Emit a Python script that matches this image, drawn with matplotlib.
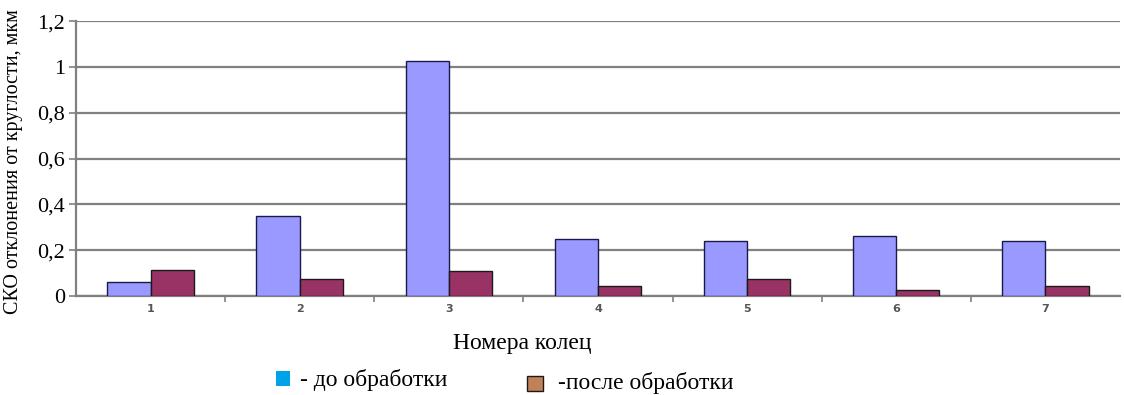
import numpy as np
import matplotlib.pyplot as plt
from matplotlib.patches import Rectangle

# данные ---------------------------------------------------------------
kolca = ["1", "2", "3", "4", "5", "6", "7"]
do_obrabotki = [0.06, 0.35, 1.025, 0.25, 0.24, 0.26, 0.24]
posle_obrabotki = [0.115, 0.075, 0.11, 0.045, 0.075, 0.025, 0.045]
y_ticks = [0, 0.2, 0.4, 0.6, 0.8, 1.0, 1.2]
y_tick_labels = ["0", "0,2", "0,4", "0,6", "0,8", "1", "1,2"]

plt.rcParams['font.family'] = ['Liberation Serif', 'DejaVu Serif']

fig = plt.figure(figsize=(11.24, 3.95), dpi=100)
ax = fig.add_axes([0.0676, 0.2506, 0.9288, 0.696])

x = np.arange(len(kolca))
w = 0.29
ax.bar(x - w / 2, do_obrabotki, w, color="#9999FF", edgecolor="#1a1a4a", linewidth=1.0, zorder=3)
ax.bar(x + w / 2, posle_obrabotki, w, color="#993366", edgecolor="#1a1a1a", linewidth=1.0, zorder=3)

ax.set_xlim(-0.5, len(kolca) - 0.5)
ax.set_ylim(0, 1.2)
ax.set_yticks(y_ticks)
ax.set_yticklabels(y_tick_labels, fontsize=16)
ax.yaxis.grid(True, color="#808080", linewidth=1.6, zorder=0)

# подписи категорий и засечки между ними
ax.set_xticks(x)
ax.set_xticklabels(kolca, fontsize=8, color="#555555", fontfamily="DejaVu Sans", fontweight="bold")
ax.tick_params(axis="x", length=0, pad=6)
ax.set_xticks(np.arange(0.5, len(kolca) - 0.5, 1), minor=True)
ax.tick_params(axis="x", which="minor", length=4, color="#808080", width=1.2)
ax.tick_params(axis="y", length=5, color="#808080", width=1.2, pad=3)

for s in ["top", "right"]:
    ax.spines[s].set_visible(False)
for s in ["left", "bottom"]:
    ax.spines[s].set_color("#808080")
    ax.spines[s].set_linewidth(1.6)

fig.text(0.012, 1 - 162 / 395, "СКО отклонения от круглости, мкм", rotation=90, fontsize=14.5,
         ha="center", va="center")
fig.text(522 / 1124, 1 - 343 / 395, "Номера колец", fontsize=17, ha="center", va="center")

# легенда вручную
fig.patches.append(Rectangle((276 / 1124, 1 - 386 / 395), 14 / 1124, 15 / 395,
                             transform=fig.transFigure, facecolor="#00A2E8", edgecolor="none"))
fig.text(300 / 1124, 1 - 380 / 395, "- до обработки", fontsize=17, va="center")
fig.patches.append(Rectangle((527 / 1124, 1 - 391 / 395), 16 / 1124, 15 / 395,
                             transform=fig.transFigure, facecolor="#C0805A", edgecolor="#1a1a1a",
                             linewidth=1.0))
fig.text(558 / 1124, 1 - 383 / 395, "-после обработки", fontsize=17, va="center")

fig.savefig("out.png", dpi=100)
